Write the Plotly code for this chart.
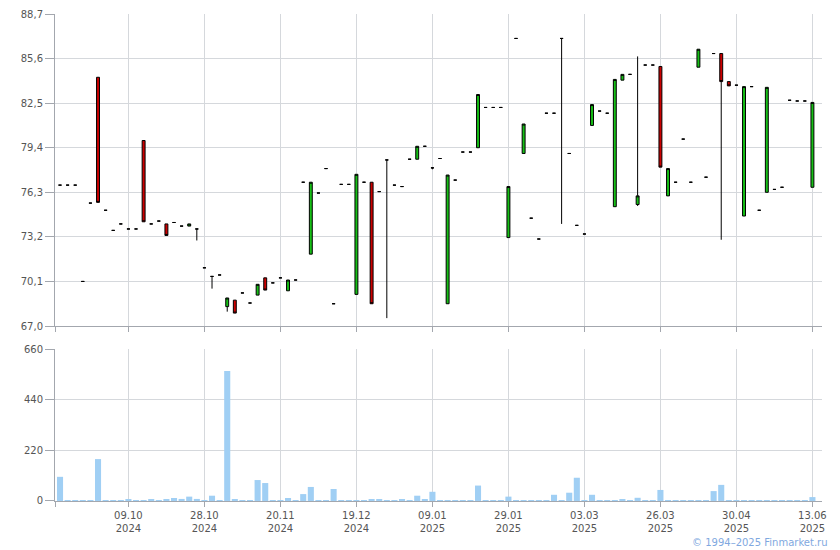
import plotly.graph_objects as go

# ---- data ----
opens = [76.8, 76.8, 76.8, 70.1, 75.55, 84.3, 75.05, 73.65, 74.1, 73.75,
         73.75, 79.9, 74.1, 74.3, 74.1, 74.2, 73.95, 73.95, 73.75, 71.05,
         70.45, 70.55, 68.35, 68.8, 69.3, 68.6, 69.15, 70.35, 70.0, 70.35,
         69.45, 70.2, 77.0, 72.0, 76.25, 77.95, 68.55, 76.85, 76.85, 69.2,
         77.0, 77.0, 76.35, 78.55, 76.8, 76.7, 78.6, 78.6, 79.5, 78.0,
         78.65, 68.55, 77.15, 79.1, 79.1, 79.4, 82.2, 82.2, 82.2, 73.15,
         87.0, 79.0, 74.5, 73.05, 81.8, 81.8, 87.0, 79.0, 74.0, 73.4,
         80.95, 81.95, 81.8, 75.3, 84.1, 84.5, 75.45, 85.15, 85.15, 85.05,
         76.05, 77.0, 80.0, 77.0, 85.0, 77.35, 85.95, 85.95, 84.0, 83.75,
         74.65, 83.65, 75.05, 76.3, 76.5, 76.65, 82.7, 82.65, 82.65, 76.65]
highs = [76.8, 76.8, 76.8, 70.1, 75.55, 84.3, 75.05, 73.65, 74.1, 73.75,
         73.75, 79.9, 74.1, 74.3, 74.1, 74.2, 73.95, 74.1, 73.75, 71.05,
         70.45, 70.55, 68.95, 68.8, 69.3, 68.6, 69.9, 70.35, 70.0, 70.35,
         70.2, 70.2, 77.0, 77.0, 76.25, 77.95, 68.55, 76.85, 76.85, 77.55,
         77.0, 77.0, 76.35, 78.55, 76.8, 76.7, 78.6, 79.5, 79.5, 78.0,
         78.65, 77.5, 77.15, 79.1, 79.1, 83.1, 82.2, 82.2, 82.2, 76.7,
         87.0, 81.05, 74.5, 73.05, 81.8, 81.8, 87.0, 79.0, 74.0, 73.4,
         82.4, 81.95, 81.8, 84.15, 84.5, 84.5, 85.75, 85.15, 85.15, 85.05,
         77.95, 77.0, 80.0, 77.0, 86.25, 77.35, 85.95, 85.95, 84.0, 83.75,
         83.65, 83.65, 75.05, 83.6, 76.5, 76.65, 82.7, 82.65, 82.65, 82.55]
lows = [76.8, 76.8, 76.8, 70.1, 75.55, 75.6, 75.05, 73.65, 74.1, 73.75,
        73.75, 74.25, 74.1, 74.3, 73.3, 74.2, 73.95, 73.95, 72.95, 71.05,
        69.6, 70.55, 68.0, 67.9, 69.3, 68.6, 69.15, 69.5, 70.0, 70.35,
        69.45, 70.2, 77.0, 72.0, 76.25, 77.95, 68.55, 76.85, 76.85, 69.2,
        77.0, 68.55, 76.35, 67.55, 76.8, 76.7, 78.6, 78.6, 79.5, 77.9,
        78.65, 68.55, 77.15, 79.1, 79.1, 79.4, 82.2, 82.2, 82.2, 73.15,
        87.0, 79.0, 74.5, 73.05, 81.8, 81.8, 74.1, 79.0, 74.0, 73.4,
        80.95, 81.95, 81.8, 75.3, 84.1, 84.5, 75.35, 85.15, 85.15, 78.05,
        76.05, 77.0, 80.0, 77.0, 85.0, 77.35, 85.95, 73.0, 83.7, 83.75,
        74.65, 83.65, 75.05, 76.3, 76.5, 76.65, 82.7, 82.65, 82.65, 76.65]
closes = [76.8, 76.8, 76.8, 70.1, 75.55, 75.6, 75.05, 73.65, 74.1, 73.75,
          73.75, 74.25, 74.1, 74.3, 73.3, 74.2, 73.95, 74.1, 73.75, 71.05,
          70.45, 70.55, 68.95, 67.9, 69.3, 68.6, 69.9, 69.5, 70.0, 70.35,
          70.2, 70.2, 77.0, 77.0, 76.25, 77.95, 68.55, 76.85, 76.85, 77.55,
          77.0, 68.55, 76.35, 78.55, 76.8, 76.7, 78.6, 79.5, 79.5, 78.0,
          78.65, 77.5, 77.15, 79.1, 79.1, 83.1, 82.2, 82.2, 82.2, 76.7,
          87.0, 81.05, 74.5, 73.05, 81.8, 81.8, 87.0, 79.0, 74.0, 73.4,
          82.4, 81.95, 81.8, 84.15, 84.5, 84.5, 76.05, 85.15, 85.15, 78.05,
          77.95, 77.0, 80.0, 77.0, 86.25, 77.35, 85.95, 84.0, 83.7, 83.75,
          83.65, 83.65, 75.05, 83.6, 76.5, 76.65, 82.7, 82.65, 82.65, 82.55]
volumes = [105, 4, 4, 4, 4, 182, 4, 4, 4, 8,
           4, 4, 8, 4, 8, 13, 9, 19, 9, 4,
           23, 4, 564, 8, 4, 4, 91, 78, 4, 4,
           13, 4, 30, 61, 4, 4, 52, 4, 4, 4,
           4, 8, 8, 4, 4, 8, 4, 23, 8, 40,
           4, 4, 4, 4, 4, 67, 4, 4, 4, 19,
           4, 4, 4, 4, 4, 27, 4, 36, 101, 4,
           27, 4, 4, 4, 8, 4, 14, 4, 4, 48,
           4, 4, 4, 4, 4, 4, 43, 70, 4, 4,
           4, 4, 4, 4, 4, 4, 4, 4, 4, 17]

tick_positions = [9, 19, 29, 39, 49, 59, 69, 79, 89, 99]
tick_dates = ["09.10", "28.10", "20.11", "19.12", "09.01",
              "29.01", "03.03", "26.03", "30.04", "13.06"]
tick_years = ["2024", "2024", "2024", "2024", "2025",
              "2025", "2025", "2025", "2025", "2025"]
price_ticks = [67.0, 70.1, 73.2, 76.3, 79.4, 82.5, 85.6, 88.7]
volume_ticks = [0, 220, 440, 660]

idx = list(range(len(opens)))
x_range = [-0.66, 100.26]

GRID = "#d5d8dc"
AXIS = "#a3a7ae"
FONT = dict(family="DejaVu Sans, Verdana, sans-serif", size=10, color="#555555")

fig = go.Figure()
fig.add_trace(go.Candlestick(
    x=idx, open=opens, high=highs, low=lows, close=closes,
    xaxis="x", yaxis="y",
    increasing=dict(fillcolor="#16c016", line=dict(color="#000000", width=1)),
    decreasing=dict(fillcolor="#cc0000", line=dict(color="#000000", width=1)),
    whiskerwidth=0, showlegend=False, hoverinfo="skip",
))
fig.add_trace(go.Bar(
    x=idx, y=volumes, xaxis="x2", yaxis="y2",
    marker=dict(color="#a0cff4", line=dict(width=0)),
    showlegend=False, hoverinfo="skip",
))

edge_tick = [x_range[0] + 0.02]
common_x = dict(
    range=x_range, showgrid=True, gridcolor=GRID, gridwidth=1,
    showline=True, linecolor=AXIS, linewidth=1,
    ticks="outside", ticklen=5, tickcolor=AXIS,
    zeroline=False, fixedrange=True, automargin=False,
)
common_y = dict(
    showgrid=True, gridcolor=GRID, showline=True, linecolor=AXIS,
    ticks="outside", ticklen=9, tickcolor=AXIS, zeroline=False,
    tickfont=FONT, fixedrange=True, automargin=False, tickmode="array",
)
# page body keeps an 8px margin, so the figure is sized to fit inside it
fig.update_layout(
    width=832, height=542,
    margin=dict(l=47, r=18, t=6, b=49, autoexpand=False),
    paper_bgcolor="white", plot_bgcolor="white",
    separators=", ",
    font=FONT,
    boxgap=0.45,
    bargap=0.2,
    xaxis=dict(**common_x, anchor="y", domain=[0, 1], rangeslider=dict(visible=False),
               tickmode="array", tickvals=edge_tick + tick_positions,
               ticktext=[""] * (1 + len(tick_positions)), showticklabels=False),
    yaxis=dict(**common_y, domain=[0.3593, 1], range=[67.0, 88.7],
               tickvals=price_ticks, tickformat=".1f"),
    xaxis2=dict(**common_x, anchor="y2", domain=[0, 1],
                tickmode="array", tickvals=edge_tick + tick_positions,
                ticktext=[""] + [d + "<br>" + y for d, y in zip(tick_dates, tick_years)],
                tickfont=FONT),
    yaxis2=dict(**common_y, domain=[0, 0.3121], range=[0, 660],
                tickvals=volume_ticks),
    annotations=[dict(text="© 1994–2025 Finmarket.ru", xref="paper", yref="paper",
                      x=1.0, y=0, xanchor="right", yanchor="middle", yshift=-41,
                      xshift=8, showarrow=False,
                      font=dict(family="DejaVu Sans, Verdana, sans-serif", size=10,
                                color="#7fa8e0"))],
)

fig.write_html("out.html")
